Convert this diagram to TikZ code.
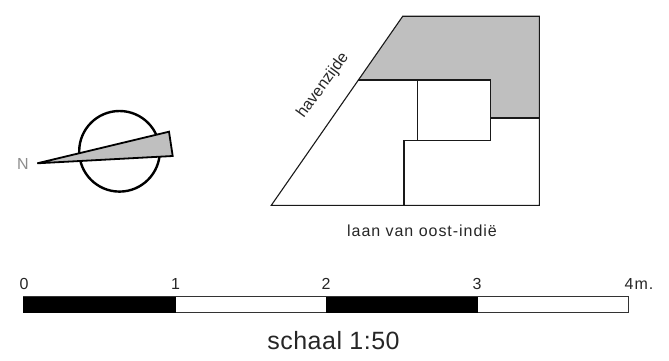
\documentclass[tikz,border=0pt]{standalone}
\usepackage{fontspec}
\setmainfont{Liberation Sans}
\newfontfamily\spaced[LetterSpace=6]{Liberation Sans}
\newfontfamily\wide[LetterSpace=2]{Liberation Sans}
\tikzset{
  x=1pt,y=-1pt,
  thin line/.style={line width=1.1pt,draw=black!90},
  lbl/.style={inner sep=0pt,text=black!85},
  fs14/.style={font=\spaced\fontsize{16}{19}\selectfont},
  fshaven/.style={font=\fontsize{16}{19}\selectfont},
  fs20/.style={font=\wide\fontsize{25}{30}\selectfont},
}
\definecolor{fillgray}{gray}{0.75}
\begin{document}
\begin{tikzpicture}
\useasboundingbox (0,0) rectangle (669,361);
% compass
\draw[line width=2.4pt] (119.5,151.3) circle (40.3);
\draw[fill=fillgray,line width=1.8pt,line join=miter] (37.3,163.3) -- (169,131.7) -- (172.7,156) -- cycle;
\node[lbl,text=black!45,fs14] (north) at (23,164) {N};
% plan
\fill[fillgray] (402.7,16.3) -- (539.3,16.3) -- (539.3,118) -- (490.7,118) -- (490.7,80) -- (358.3,80) -- cycle;
\draw[thin line,line join=miter] (271.3,205.3) -- (402.7,16.3) -- (539.3,16.3) -- (539.3,205.3) -- cycle;
\draw[thin line] (358.3,80) -- (490.7,80) -- (490.7,140.7) -- (404,140.7) -- (404,205.3);
\draw[thin line] (417.7,80) -- (417.7,140.7);
\draw[thin line] (490.7,118) -- (539.3,118);
\node[lbl,fshaven,rotate=54] (haven) at (323,85.5) {havenzijde};
\node[lbl,fs14] (laan) at (422,231) {laan van oost-indië};
% scale bar
\draw[line width=0.9pt,draw=black!80,fill=white] (23.3,296.9) rectangle (628.7,312.6);
\fill[black] (23.3,296.9) rectangle (175.7,312.6);
\fill[black] (326,296.9) rectangle (477.7,312.6);
\node[lbl,fs14] (t0) at (24,284) {0};
\node[lbl,fs14] (t1) at (175.5,284) {1};
\node[lbl,fs14] (t2) at (326,284) {2};
\node[lbl,fs14] (t3) at (477,284) {3};
\node[lbl,fs14] (t4) at (639,284) {4m.};
\node[lbl,fs20,anchor=base] (schaal) at (333.5,349) {schaal 1:50};
\end{tikzpicture}
\end{document}
